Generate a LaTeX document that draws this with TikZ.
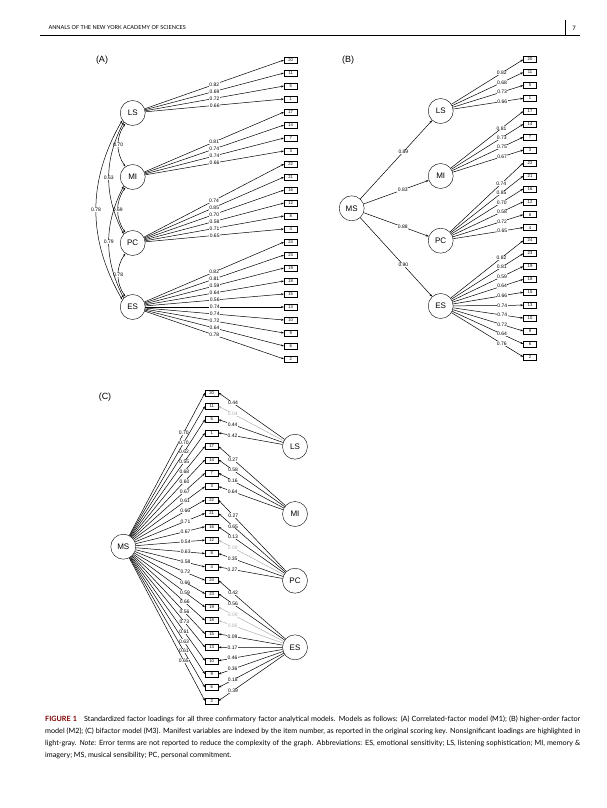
\documentclass[tikz,border=0pt]{standalone}
\usepackage{fontspec}
\setmainfont{Liberation Sans}
\newfontfamily\capfont{Lato}
\usetikzlibrary{arrows.meta}
\tikzset{
  fac/.style={draw,circle,minimum size=25pt,inner sep=0pt,font=\fontsize{8}{9}\selectfont},
  itm/.style={draw,minimum width=13pt,minimum height=6pt,inner sep=0pt,font=\fontsize{4.2}{4.5}\selectfont},
  load/.style={line width=0.5pt,-{Stealth[length=3pt,width=2pt]}},
  lbl/.style={fill=white,inner sep=0.4pt,font=\fontsize{5}{6}\selectfont},
  corr/.style={line width=0.5pt,{Stealth[length=3pt,width=2pt]}-{Stealth[length=3pt,width=2pt]}},
  panel/.style={font=\fontsize{9}{10}\selectfont}
}
\def\itemlist{20,11,5,1,17,14,7,3,22,21,16,12,8,4,24,23,19,18,15,13,10,9,6,2}
\begin{document}
\begin{tikzpicture}[x=1pt,y=-1pt]
\useasboundingbox[fill=white] (0,0) rectangle (607,808);

% header
\node[anchor=west,font=\capfont\fontsize{5.5}{6}\selectfont] (head) at (45,28) {ANNALS OF THE NEW YORK ACADEMY OF SCIENCES};
\node[font=\capfont\fontsize{6}{7}\selectfont] (page) at (574,28) {7};
\draw[line width=0.6pt] (40,35) -- (580,35);
\draw[line width=0.6pt] (565,20) -- (565,35);

% (A) correlated factors
\node[panel] (pa) at (102,60) {(A)};
\foreach \n [count=\i from 0] in \itemlist
  \node[itm] (a\n) at (290.7,60+13*\i) {\n};
\node[fac] (LSa) at (132.7,113) {LS};
\node[fac] (MIa) at (132.7,177) {MI};
\node[fac] (PCa) at (132.7,243) {PC};
\node[fac] (ESa) at (132.7,307) {ES};
\foreach \n/\v in {20/0.82,11/0.69,5/0.72,1/0.66}
  \draw[load] (LSa) -- node[lbl,pos=0.5]{\v} (a\n.west);
\foreach \n/\v in {17/0.81,14/0.74,7/0.74,3/0.66}
  \draw[load] (MIa) -- node[lbl,pos=0.5]{\v} (a\n.west);
\foreach \n/\v in {22/0.74,21/0.85,16/0.70,12/0.58,8/0.71,4/0.65}
  \draw[load] (PCa) -- node[lbl,pos=0.5]{\v} (a\n.west);
\foreach \n/\v in {24/0.82,23/0.81,19/0.59,18/0.64,15/0.56,13/0.74,10/0.74,9/0.72,6/0.64,2/0.78}
  \draw[load] (ESa) -- node[lbl,pos=0.5]{\v} (a\n.west);
\draw[corr] (LSa.235) to[bend right=35] node[lbl]{0.70} (MIa.125);
\draw[corr] (MIa.235) to[bend right=35] node[lbl]{0.69} (PCa.125);
\draw[corr] (PCa.235) to[bend right=35] node[lbl]{0.78} (ESa.125);
\draw[corr] (LSa.225) to[bend right=27] node[lbl]{0.63} (PCa.135);
\draw[corr] (MIa.225) to[bend right=27] node[lbl]{0.79} (ESa.135);
\draw[corr] (LSa.215) to[bend right=30] node[lbl]{0.78} (ESa.145);

% (B) higher-order factor
\node[panel] (pb) at (348,60) {(B)};
\foreach \n [count=\i from 0] in \itemlist
  \node[itm] (b\n) at (530,59.5+12.93*\i) {\n};
\node[fac] (MSb) at (351.7,208.3) {MS};
\node[fac] (LSb) at (440.7,111) {LS};
\node[fac] (MIb) at (440.7,176) {MI};
\node[fac] (PCb) at (440.7,240.7) {PC};
\node[fac] (ESb) at (440.7,306) {ES};
\foreach \f/\v in {LSb/0.89,MIb/0.83,PCb/0.88,ESb/0.90}
  \draw[load] (MSb) -- node[lbl,pos=0.6]{\v} (\f);
\foreach \n/\v in {20/0.82,11/0.68,5/0.73,1/0.66}
  \draw[load] (LSb) -- node[lbl,pos=0.7]{\v} (b\n.west);
\foreach \n/\v in {17/0.81,14/0.73,7/0.75,3/0.67}
  \draw[load] (MIb) -- node[lbl,pos=0.7]{\v} (b\n.west);
\foreach \n/\v in {22/0.74,21/0.85,16/0.70,12/0.58,8/0.72,4/0.65}
  \draw[load] (PCb) -- node[lbl,pos=0.7]{\v} (b\n.west);
\foreach \n/\v in {24/0.82,23/0.81,19/0.59,18/0.64,15/0.66,13/0.74,10/0.74,9/0.72,6/0.64,2/0.76}
  \draw[load] (ESb) -- node[lbl,pos=0.7]{\v} (b\n.west);

% (C) bifactor
\node[panel] (pc) at (105,397) {(C)};
\foreach \n [count=\i from 0] in \itemlist
  \node[itm] (c\n) at (211.7,392.7+13.4*\i) {\n};
\node[fac] (MSc) at (123.3,546.7) {MS};
\node[fac] (LSc) at (295,446.7) {LS};
\node[fac] (MIc) at (295,514) {MI};
\node[fac] (PCc) at (295,580.7) {PC};
\node[fac] (ESc) at (295,647.3) {ES};
\foreach \n/\v in {20/0.70,11/0.70,5/0.62,1/0.55,17/0.68,14/0.60,7/0.67,3/0.61,22/0.66,21/0.71,16/0.67,12/0.54,8/0.63,4/0.58,24/0.72,23/0.66,19/0.59,18/0.66,15/0.56,13/0.73,10/0.61,9/0.63,6/0.61,2/0.65}
  \draw[load] (MSc) -- node[lbl,pos=0.72]{\v} (c\n.west);
\foreach \n/\v/\c in {20/0.44/black,11/0.04/gray!60,5/0.44/black,1/0.42/black}
  \draw[load,draw=\c] (LSc) -- node[lbl,pos=0.78,text=\c]{\v} (c\n.east);
\foreach \n/\v/\c in {17/0.27/black,14/0.58/black,7/0.16/black,3/0.64/black}
  \draw[load,draw=\c] (MIc) -- node[lbl,pos=0.78,text=\c]{\v} (c\n.east);
\foreach \n/\v/\c in {22/0.27/black,21/0.65/black,16/0.13/black,12/0.09/gray!60,8/0.35/black,4/0.27/black}
  \draw[load,draw=\c] (PCc) -- node[lbl,pos=0.78,text=\c]{\v} (c\n.east);
\foreach \n/\v/\c in {24/0.42/black,23/0.56/black,19/0.09/gray!60,18/0.06/gray!60,15/0.09/black,13/0.17/black,10/0.46/black,9/0.36/black,6/0.18/black,2/0.39/black}
  \draw[load,draw=\c] (ESc) -- node[lbl,pos=0.78,text=\c]{\v} (c\n.east);

% caption
\node[anchor=north west,text width=535pt,align=justify,inner sep=0pt,font=\capfont\fontsize{7.2}{12}\selectfont] (cap) at (45,716)
  {{\color{red!50!black}\textbf{FIGURE 1}}\quad Standardized factor loadings for all three confirmatory factor analytical models. Models as follows: (A) Correlated-factor model (M1); (B) higher-order factor model (M2); (C) bifactor model (M3). Manifest variables are indexed by the item number, as reported in the original scoring key. Nonsignificant loadings are highlighted in light-gray. \textit{Note}: Error terms are not reported to reduce the complexity of the graph. Abbreviations: ES, emotional sensitivity; LS, listening sophistication; MI, memory \& imagery; MS, musical sensibility; PC, personal commitment.};
\end{tikzpicture}
\end{document}
